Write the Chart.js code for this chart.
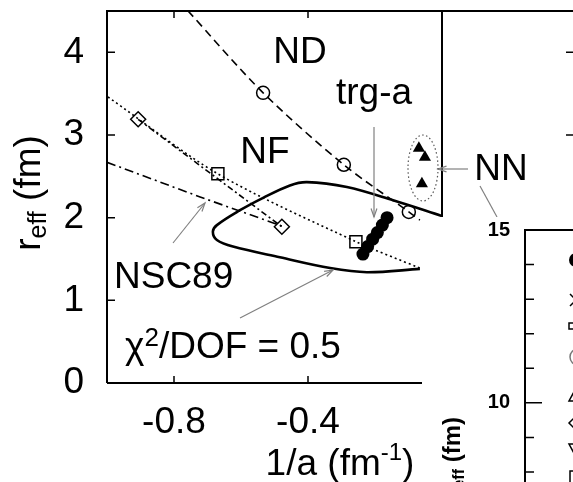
<!DOCTYPE html>
<html>
<head>
<meta charset="utf-8">
<script src="https://cdn.jsdelivr.net/npm/chart.js@4.4.1/dist/chart.umd.min.js"></script>
<style>
html, body { margin: 0; padding: 0; background: #fff; }
#wrap { position: relative; width: 573px; height: 482px; overflow: hidden; }
#main { position: absolute; left: 0; top: 0; }
#inset { position: absolute; left: 422px; top: 217px; }
</style>
</head>
<body>
<div id="wrap">
  <canvas id="main" width="573" height="482"></canvas>
  <canvas id="inset" width="151" height="265"></canvas>
</div>
<script>
// values: x = 1/a (fm^-1), y = r_eff (fm)
const xTicks = [-0.8, -0.4];
const yTicks = [0, 1, 2, 3, 4];

const ndX = [-0.758, -0.534, -0.293, -0.099, -0.066];
const ndY = [4.50, 3.51, 2.64, 2.07, 1.97];
const nfX = [-0.997, -0.669, -0.257, -0.066];
const nfY = [3.46, 2.53, 1.71, 1.39];
const diaX = [-0.907, -0.478];
const diaY = [3.19, 1.89];
const nscX = [-1.0, -0.722, -0.478];
const nscY = [2.67, 2.25, 1.90];
const chiX = [0.0, -0.146, -0.284, -0.403, -0.454, -0.534, -0.603, -0.672, -0.684, -0.672, -0.624, -0.484, -0.334, -0.224, -0.066];
const chiY = [2.02, 2.21, 2.37, 2.43, 2.39, 2.24, 2.09, 1.91, 1.83, 1.73, 1.65, 1.52, 1.39, 1.34, 1.38];
const trgX = [-0.236, -0.222, -0.207, -0.193, -0.178, -0.164];
const trgY = [1.56, 1.65, 1.74, 1.82, 1.91, 2.00];
const nnX = [-0.069, -0.051, -0.060];
const nnY = [2.84, 2.73, 2.41];

// the next panel (only its left axis is in view)
const insetTicks = [8, 9, 10, 11, 12, 13, 14, 15];
const insetLabels = [10, 15];

const FONT = '"Liberation Sans", Arial, Helvetica, sans-serif';
const pts = (xs, ys) => xs.map((x, i) => ({ x: x, y: ys[i] }));

// draws text made of pieces (sub/superscripts)
function rich(ctx, parts, x, y, align) {
  let w = 0;
  parts.forEach(p => {
    ctx.font = (p.bold ? 'bold ' : '') + p.size + 'px ' + FONT;
    p.w = ctx.measureText(p.t).width;
    w += p.w;
  });
  let cx = align === 'center' ? x - w / 2 : (align === 'right' ? x - w : x);
  ctx.textAlign = 'left';
  ctx.textBaseline = 'alphabetic';
  parts.forEach(p => {
    ctx.font = (p.bold ? 'bold ' : '') + p.size + 'px ' + FONT;
    ctx.fillText(p.t, cx, y + (p.dy || 0));
    cx += p.w;
  });
}

function arrow(ctx, x1, y1, x2, y2, head) {
  ctx.beginPath();
  ctx.moveTo(x1, y1);
  ctx.lineTo(x2, y2);
  ctx.stroke();
  if (head) {
    const a = Math.atan2(y2 - y1, x2 - x1), L = 9, s = 0.33;
    ctx.beginPath();
    ctx.moveTo(x2 - L * Math.cos(a - s), y2 - L * Math.sin(a - s));
    ctx.lineTo(x2, y2);
    ctx.lineTo(x2 - L * Math.cos(a + s), y2 - L * Math.sin(a + s));
    ctx.stroke();
  }
}

const mainDecor = {
  id: 'mainDecor',
  afterDatasetsDraw(chart) {
    const ctx = chart.ctx, a = chart.chartArea;
    const sx = chart.scales.x, sy = chart.scales.y;
    ctx.save();
    ctx.strokeStyle = '#000';
    ctx.lineWidth = 2;
    ctx.beginPath();
    ctx.moveTo(a.left, a.bottom);
    ctx.lineTo(a.left, a.top);
    ctx.lineTo(573, a.top);
    ctx.moveTo(a.left, a.bottom);
    ctx.lineTo(a.right, a.bottom);
    ctx.lineTo(a.right, a.top);
    ctx.stroke();

    // inner ticks
    ctx.lineWidth = 1.5;
    ctx.beginPath();
    xTicks.forEach(v => {
      const px = sx.getPixelForValue(v);
      ctx.moveTo(px, a.bottom); ctx.lineTo(px, a.bottom - 7);
      ctx.moveTo(px, a.top); ctx.lineTo(px, a.top + 7);
    });
    yTicks.forEach(v => {
      const py = sy.getPixelForValue(v);
      ctx.moveTo(a.left, py); ctx.lineTo(a.left + 8, py);
    });
    // ticks of the panel to the right
    [4, 3].forEach(v => {
      const py = sy.getPixelForValue(v);
      ctx.moveTo(566, py); ctx.lineTo(573, py);
    });
    ctx.stroke();

    // axis titles
    ctx.fillStyle = '#000';
    rich(ctx, [{ t: '1/a (fm', size: 37 }, { t: '-1', size: 24, dy: -15 }, { t: ')', size: 37 }], 340, 475, 'center');
    ctx.save();
    ctx.translate(40, 193);
    ctx.rotate(-Math.PI / 2);
    rich(ctx, [{ t: 'r', size: 37 }, { t: 'eff', size: 25, dy: 6 }, { t: ' (fm)', size: 37 }], 0, 0, 'center');
    ctx.restore();

    // labels
    rich(ctx, [{ t: 'ND', size: 37 }], 300, 63, 'center');
    rich(ctx, [{ t: 'trg-a', size: 37 }], 374, 104, 'center');
    rich(ctx, [{ t: 'NF', size: 37 }], 265, 163, 'center');
    rich(ctx, [{ t: 'NN', size: 37 }], 501, 180, 'center');
    rich(ctx, [{ t: 'NSC89', size: 37 }], 114, 288, 'left');
    rich(ctx, [{ t: '\u03c7', size: 37 }, { t: '2', size: 26, dy: -12 }, { t: '/DOF = 0.5', size: 37 }], 125, 358, 'left');

    // pointers
    ctx.strokeStyle = '#808080';
    ctx.lineWidth = 1.2;
    arrow(ctx, 173, 243, 205, 203, true);
    arrow(ctx, 240, 318, 333, 270, true);
    arrow(ctx, 374, 127, 374, 217, true);
    arrow(ctx, 468, 169, 438, 169, true);
    arrow(ctx, 480, 186, 497, 217, false);

    // dotted ring round the NN points
    ctx.strokeStyle = '#555';
    ctx.setLineDash([1.5, 2.5]);
    ctx.beginPath();
    ctx.ellipse(423, 168, 15, 33, 0, 0, Math.PI * 2);
    ctx.stroke();
    ctx.restore();
  }
};

new Chart(document.getElementById('main'), {
  type: 'scatter',
  data: {
    datasets: [
      {
        data: pts(trgX, trgY), showLine: false,
        pointStyle: 'circle', pointRadius: 6.5,
        pointBackgroundColor: '#000', pointBorderColor: '#000', pointBorderWidth: 0
      },
      {
        data: pts(nnX, nnY), showLine: false,
        pointStyle: 'triangle', pointRadius: 7,
        pointBackgroundColor: '#000', pointBorderColor: '#000', pointBorderWidth: 0
      },
      {
        data: pts(chiX, chiY), showLine: true, tension: 0.35,
        borderColor: '#000', borderWidth: 2.6, pointRadius: 0
      },
      {
        data: pts(ndX, ndY), showLine: true, tension: 0.3,
        borderColor: '#000', borderWidth: 1.6, borderDash: [8, 5],
        pointStyle: 'circle',
        pointRadius: c => (c.dataIndex >= 1 && c.dataIndex <= 3) ? 6.5 : 0,
        pointBackgroundColor: 'rgba(0,0,0,0)', pointBorderColor: '#000', pointBorderWidth: 1.5
      },
      {
        data: pts(nfX, nfY), showLine: true, tension: 0.3,
        borderColor: '#000', borderWidth: 1.6, borderDash: [2, 3],
        pointStyle: 'rect',
        pointRadius: c => (c.dataIndex === 1 || c.dataIndex === 2) ? 8.5 : 0,
        pointBackgroundColor: 'rgba(0,0,0,0)', pointBorderColor: '#000', pointBorderWidth: 1.5
      },
      {
        data: pts(diaX, diaY), showLine: true,
        borderColor: '#000', borderWidth: 1.6, borderDash: [6, 3, 2, 3],
        pointStyle: 'rectRot', pointRadius: 7.5,
        pointBackgroundColor: 'rgba(0,0,0,0)', pointBorderColor: '#000', pointBorderWidth: 1.5
      },
      {
        data: pts(nscX, nscY), showLine: true,
        borderColor: '#000', borderWidth: 1.6, borderDash: [9, 4, 2, 4],
        pointRadius: 0
      }
    ]
  },
  options: {
    responsive: false,
    animation: false,
    layout: { padding: { left: 0, top: 11, right: 131, bottom: 0 } },
    plugins: { legend: { display: false }, tooltip: { enabled: false } },
    scales: {
      x: {
        type: 'linear', min: -1, max: 0,
        grid: { display: false, drawTicks: false }, border: { display: false },
        afterBuildTicks: s => { s.ticks = xTicks.map(v => ({ value: v })); },
        afterFit: s => { s.height = 99; s.paddingLeft = 0; s.paddingRight = 0; },
        ticks: {
          font: { size: 37, family: FONT }, color: '#000', padding: 18,
          maxRotation: 0, autoSkip: false, callback: v => v.toFixed(1)
        }
      },
      y: {
        type: 'linear', min: 0, max: 4.5,
        grid: { display: false, drawTicks: false }, border: { display: false },
        afterBuildTicks: s => { s.ticks = yTicks.map(v => ({ value: v })); },
        afterFit: s => { s.width = 107; s.paddingTop = 0; s.paddingBottom = 0; },
        ticks: {
          font: { size: 37, family: FONT }, color: '#000', padding: 23,
          autoSkip: false, callback: v => String(v)
        }
      }
    }
  },
  plugins: [mainDecor]
});

const insetDecor = {
  id: 'insetDecor',
  beforeDraw(chart) {
    const ctx = chart.ctx;
    ctx.save();
    ctx.fillStyle = '#fff';
    ctx.fillRect(0, 0, chart.width, chart.height);
    ctx.restore();
  },
  afterDraw(chart) {
    const ctx = chart.ctx, a = chart.chartArea, sy = chart.scales.y;
    ctx.save();
    ctx.strokeStyle = '#000';
    ctx.lineWidth = 2;
    ctx.beginPath();
    ctx.moveTo(a.left, chart.height);
    ctx.lineTo(a.left, a.top);
    ctx.lineTo(chart.width, a.top);
    ctx.stroke();
    ctx.lineWidth = 1.5;
    ctx.beginPath();
    insetTicks.forEach(v => {
      const py = sy.getPixelForValue(v);
      ctx.moveTo(a.left, py);
      ctx.lineTo(a.left + (insetLabels.includes(v) ? 17 : 9), py);
    });
    ctx.stroke();

    // rotated axis title, cut by the bottom edge
    ctx.fillStyle = '#000';
    ctx.save();
    ctx.translate(38, 200);
    ctx.rotate(-Math.PI / 2);
    rich(ctx, [{ t: 'r', size: 24, bold: true }, { t: 'eff', size: 16, bold: true, dy: 4 }, { t: ' (fm)', size: 24, bold: true }], 0, 0, 'right');
    ctx.restore();

    // legend symbols, mostly beyond the right edge
    const lx = 154;
    ctx.lineWidth = 1.5;
    ctx.beginPath(); ctx.arc(lx, 43, 7, 0, Math.PI * 2); ctx.fill();
    ctx.beginPath();
    ctx.moveTo(lx - 6, 77); ctx.lineTo(lx + 6, 89);
    ctx.moveTo(lx - 6, 89); ctx.lineTo(lx + 6, 77);
    ctx.stroke();
    ctx.strokeRect(lx - 7, 106, 8, 6);
    ctx.strokeStyle = '#777';
    ctx.beginPath(); ctx.arc(lx + 2, 140, 8, 0, Math.PI * 2); ctx.stroke();
    ctx.strokeStyle = '#000';
    ctx.beginPath(); ctx.moveTo(lx, 171); ctx.lineTo(lx - 7, 184); ctx.lineTo(lx + 7, 184); ctx.closePath(); ctx.stroke();
    ctx.beginPath(); ctx.moveTo(lx, 199); ctx.lineTo(lx - 7, 206); ctx.lineTo(lx, 213); ctx.lineTo(lx + 7, 206); ctx.closePath(); ctx.stroke();
    ctx.beginPath(); ctx.moveTo(lx - 7, 227); ctx.lineTo(lx + 7, 227); ctx.lineTo(lx, 240); ctx.closePath(); ctx.stroke();
    ctx.strokeRect(lx - 6, 254, 12, 12);
    ctx.restore();
  }
};

new Chart(document.getElementById('inset'), {
  type: 'scatter',
  data: { datasets: [] },
  options: {
    responsive: false,
    animation: false,
    layout: { padding: { left: 0, top: 13, right: 0, bottom: 0 } },
    plugins: { legend: { display: false }, tooltip: { enabled: false } },
    scales: {
      x: { display: false, min: 0, max: 1 },
      y: {
        type: 'linear', min: 7.71, max: 15,
        grid: { display: false, drawTicks: false }, border: { display: false },
        afterBuildTicks: s => { s.ticks = insetLabels.map(v => ({ value: v })); },
        afterFit: s => { s.width = 103; s.paddingTop = 0; s.paddingBottom = 0; },
        ticks: {
          font: { size: 20, weight: 'bold', family: FONT }, color: '#000', padding: 15,
          autoSkip: false, callback: v => String(v)
        }
      }
    }
  },
  plugins: [insetDecor]
});
</script>
</body>
</html>
